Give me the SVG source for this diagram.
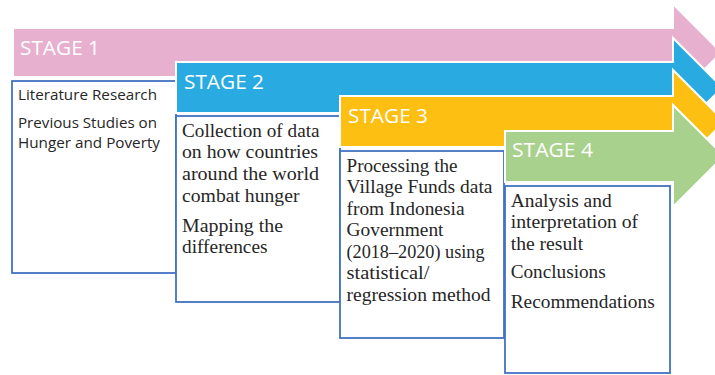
<svg xmlns="http://www.w3.org/2000/svg" width="715" height="375" viewBox="0 0 715 375">
<style>
.arrow{stroke:#ffffff;stroke-width:2;stroke-linejoin:miter}
.box{fill:#ffffff;stroke:#4472C4;stroke-width:1.8}
.stage{font-family:"Open Sans","Noto Sans",sans-serif;font-size:20px;font-weight:400;fill:#ffffff}
.sans{font-family:"Open Sans","Noto Sans",sans-serif;font-size:15px;fill:#262626}
.serif{font-family:"Liberation Serif","DejaVu Serif",serif;font-size:18.5px;fill:#262626}
</style>
<rect width="715" height="375" fill="#ffffff"/>
<g id="stage1">
<path class="arrow" fill="#E8B0CF" d="M13,28 H673 V4 L721.5,52.5 L673,101 V77 H13 Z"/>
<rect class="box" x="12" y="81" width="164" height="192"/>
<text class="stage" x="20" y="54.5" textLength="80" lengthAdjust="spacingAndGlyphs">STAGE 1</text>
<text class="sans" x="18" y="100" textLength="139" lengthAdjust="spacingAndGlyphs">Literature Research</text>
<text class="sans" x="18" y="127.5" textLength="139" lengthAdjust="spacingAndGlyphs">Previous Studies on</text>
<text class="sans" x="18" y="147.5" textLength="142" lengthAdjust="spacingAndGlyphs">Hunger and Poverty</text>
</g>
<g id="stage2">
<path class="arrow" fill="#29ABE2" d="M176,62 H673 V38 L722.5,87.5 L673,137 V113 H176 Z"/>
<rect class="box" x="176" y="116" width="164" height="186"/>
<text class="stage" x="184" y="89" textLength="80" lengthAdjust="spacingAndGlyphs">STAGE 2</text>
<text class="serif" x="182" y="136.7" textLength="137.5" lengthAdjust="spacingAndGlyphs">Collection of data</text>
<text class="serif" x="182" y="158.3" textLength="136" lengthAdjust="spacingAndGlyphs">on how countries</text>
<text class="serif" x="182" y="179.5" textLength="137" lengthAdjust="spacingAndGlyphs">around the world</text>
<text class="serif" x="182" y="201.5" textLength="117.5" lengthAdjust="spacingAndGlyphs">combat hunger</text>
<text class="serif" x="182" y="231.7" textLength="101" lengthAdjust="spacingAndGlyphs">Mapping the</text>
<text class="serif" x="182" y="252.7" textLength="85.5" lengthAdjust="spacingAndGlyphs">differences</text>
</g>
<g id="stage3">
<path class="arrow" fill="#FCBF12" d="M340,96 H673 V70 L724.5,121.5 L673,173 V147 H340 Z"/>
<rect class="box" x="340" y="151" width="164" height="187"/>
<text class="stage" x="348" y="123" textLength="80" lengthAdjust="spacingAndGlyphs">STAGE 3</text>
<text class="serif" x="346.5" y="171.7" textLength="111" lengthAdjust="spacingAndGlyphs">Processing the</text>
<text class="serif" x="346.5" y="193.3" textLength="146" lengthAdjust="spacingAndGlyphs">Village Funds data</text>
<text class="serif" x="346.5" y="214.5" textLength="118" lengthAdjust="spacingAndGlyphs">from Indonesia</text>
<text class="serif" x="346.5" y="236" textLength="97" lengthAdjust="spacingAndGlyphs">Government</text>
<text class="serif" x="346.5" y="257.5" textLength="138" lengthAdjust="spacingAndGlyphs">(2018–2020) using</text>
<text class="serif" x="346.5" y="279.3" textLength="83" lengthAdjust="spacingAndGlyphs">statistical/</text>
<text class="serif" x="346.5" y="300.7" textLength="144" lengthAdjust="spacingAndGlyphs">regression method</text>
</g>
<g id="stage4">
<path class="arrow" fill="#A9D18E" d="M505,131 H673 V105 L724,156 L673,207 V182 H505 Z"/>
<rect class="box" x="505" y="186" width="165" height="187"/>
<text class="stage" x="512" y="157" textLength="81" lengthAdjust="spacingAndGlyphs">STAGE 4</text>
<text class="serif" x="510.7" y="206.7" textLength="101" lengthAdjust="spacingAndGlyphs">Analysis and</text>
<text class="serif" x="510.7" y="228.3" textLength="127.5" lengthAdjust="spacingAndGlyphs">interpretation of</text>
<text class="serif" x="510.7" y="250" textLength="72.5" lengthAdjust="spacingAndGlyphs">the result</text>
<text class="serif" x="510.7" y="278.3" textLength="95" lengthAdjust="spacingAndGlyphs">Conclusions</text>
<text class="serif" x="510.7" y="307.7" textLength="144" lengthAdjust="spacingAndGlyphs">Recommendations</text>
</g>
<g id="connectors"/>
</svg>
